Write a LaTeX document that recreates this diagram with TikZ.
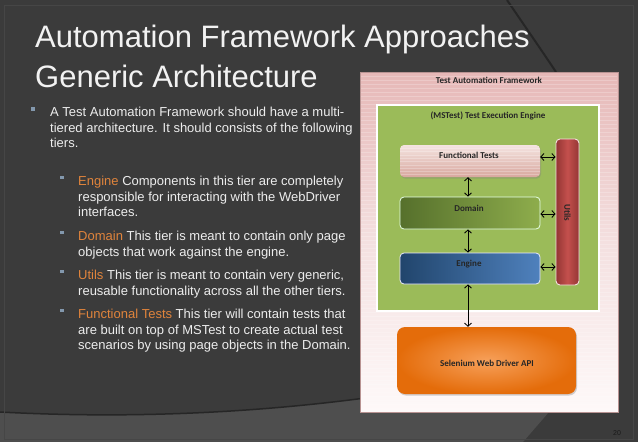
\documentclass[tikz,border=0pt]{standalone}
\usepackage{fontspec}
\setmainfont{Liberation Sans}
\newfontfamily\diagfont{Carlito}
\usetikzlibrary{arrows.meta,shadows}
\definecolor{bg}{HTML}{3B3B3B}
\definecolor{bandc}{HTML}{4E4E4E}
\definecolor{edgec}{HTML}{262626}
\definecolor{framec}{HTML}{464646}
\definecolor{txt}{HTML}{EDEDED}
\definecolor{hlc}{HTML}{E0843C}
\definecolor{bulc}{HTML}{8398AD}
\definecolor{pk1}{HTML}{E6B8B7}
\definecolor{pk2}{HTML}{F4E0E0}
\definecolor{pk3}{HTML}{FEF9F9}
\definecolor{grn}{HTML}{9BBB59}
\definecolor{ft1}{HTML}{F4E4E0}
\definecolor{ft2}{HTML}{D8A79E}
\definecolor{dm1}{HTML}{56702C}
\definecolor{dm2}{HTML}{8EAD4C}
\definecolor{en1}{HTML}{21456C}
\definecolor{en2}{HTML}{4F81BD}
\definecolor{ut1}{HTML}{943634}
\definecolor{ut2}{HTML}{C4504D}
\definecolor{or1}{HTML}{F7A05A}
\definecolor{or2}{HTML}{E46C0A}
\begin{document}
\begin{tikzpicture}[x=1pt,y=-1pt,
  slidetext/.style={text=txt, font=\fontsize{13}{15.5}\selectfont, anchor=base west, align=left, inner sep=0pt},
  bulletsq/.style={fill=bulc, minimum size=3.2pt, inner sep=0pt},
  dlabel/.style={font=\diagfont\bfseries\fontsize{9}{10}\selectfont, text=black!85, inner sep=0pt},
  tier/.style={rounded corners=4pt, minimum width=140pt, minimum height=32pt, inner sep=0pt},
  link/.style={{Straight Barb[length=3.2pt,width=7pt]}-{Straight Barb[length=3.2pt,width=7pt]}, line width=0.85pt, black}
]
\useasboundingbox (0,0) rectangle (638,442);
% background
\fill[bg] (0,0) rectangle (638,442);
\fill[bandc] (0,412) .. controls (150,420) and (280,410) .. (380,396) -- (560,396) -- (549,412) -- (523,442) -- (0,442) -- cycle;
\draw[edgec, line width=1.5pt] (0,412) .. controls (150,420) and (280,410) .. (380,396);
\draw[edgec, line width=2pt] (507,0) .. controls (522,22) and (540,48) .. (556,72);
\draw[framec, line width=0.8pt] (4,5) rectangle (633,439);
% title (anchor on the last line's baseline)
\node[text=white!95!black, font=\fontsize{31}{40}\selectfont, anchor=base west, align=left, inner sep=0pt] (title) at (35,87) {Automation Framework Approaches\\Generic Architecture};
% bullets
\node[bulletsq] (b0) at (33,109) {};
\node[slidetext] (t0) at (50,147.5) {A Test Automation Framework should have a multi-\\tiered architecture. It should consists of the following\\tiers.};
\node[bulletsq] (b1) at (62,177.5) {};
\node[slidetext] (t1) at (78,216.5) {{\color{hlc}Engine} Components in this tier are completely\\responsible for interacting with the WebDriver\\interfaces.};
\node[bulletsq] (b2) at (62,232.5) {};
\node[slidetext] (t2) at (78,256) {{\color{hlc}Domain} This tier is meant to contain only page\\objects that work against the engine.};
\node[bulletsq] (b3) at (62,271.5) {};
\node[slidetext] (t3) at (78,295) {{\color{hlc}Utils} This tier is meant to contain very generic,\\reusable functionality across all the other tiers.};
\node[bulletsq] (b4) at (62,310.5) {};
\node[slidetext] (t4) at (78,349.5) {{\color{hlc}Functional Tests} This tier will contain tests that\\are built on top of MSTest to create actual test\\scenarios by using page objects in the Domain.};
% diagram panel
\node[top color=pk1, bottom color=pk3, middle color=pk2, minimum width=258pt, minimum height=340pt, inner sep=0pt, draw=pk1!80!black, line width=0.4pt] (panel) at (489,242) {};
\foreach \yy in {76,80,...,408} \draw[white, opacity=0.22, line width=0.5pt] (361,\yy) -- (617,\yy);
\node[dlabel] (paneltitle) at (489,80) {Test Automation Framework};
\node[fill=grn, draw=white, line width=1.5pt, minimum width=222pt, minimum height=206pt, inner sep=0pt] (msbox) at (488,208) {};
\node[dlabel] (mstitle) at (488,115.5) {(MSTest) Test Execution Engine};
% tiers
\node[tier, top color=ft1, bottom color=ft2, drop shadow={shadow xshift=1pt, shadow yshift=-1.5pt, opacity=0.35},
  path picture={\foreach \k in {1,...,9} \draw[white, opacity=0.25, line width=0.5pt] ([yshift=-\k*3.3pt]path picture bounding box.north west) -- ([yshift=-\k*3.3pt]path picture bounding box.north east);}] (ft) at (470,161) {};
\node[dlabel] (ftl) at (469,155) {Functional Tests};
\node[tier, left color=dm1, right color=dm2, draw=green!10!white, line width=0.8pt] (domain) at (470,213) {};
\node[dlabel] (dml) at (469,208) {Domain};
\node[tier, left color=en1, right color=en2, draw=blue!8!white, line width=0.8pt, minimum height=31pt] (engine) at (470,268.5) {};
\node[dlabel] (enl) at (469,264) {Engine};
\node[rounded corners=4pt, left color=ut1, right color=ut1, middle color=ut2, draw=pk2, line width=0.9pt, minimum width=23pt, minimum height=146pt, inner sep=0pt] (utils) at (567.5,212) {};
\node[dlabel, rotate=-90] (utl) at (567.5,213) {Utils};
\node[rounded corners=8pt, inner color=or1, outer color=or2, minimum width=179pt, minimum height=67pt, inner sep=0pt, drop shadow={shadow xshift=1pt, shadow yshift=-1.5pt, opacity=0.35}] (sel) at (486.5,360.5) {};
\node[dlabel] (sell) at (487,363) {Selenium Web Driver API};
% connectors
\draw[link] ([yshift=4pt]ft.east) -- ([yshift=4pt]ft.east -| utils.west);
\draw[link] ([yshift=-1pt]domain.east) -- ([yshift=-1pt]domain.east -| utils.west);
\draw[link] ([yshift=1.5pt]engine.east) -- ([yshift=1.5pt]engine.east -| utils.west);
\draw[link] ([xshift=-2pt]ft.south) -- ([xshift=-2pt]domain.north);
\draw[link] ([xshift=-2pt]domain.south) -- ([xshift=-2pt]engine.north);
\draw[link] ([xshift=-2pt]engine.south) -- ([xshift=-2pt]engine.south |- sel.north);
% page number
\node[text=black!90, font=\fontsize{7}{8}\selectfont, inner sep=0pt] (pnum) at (617,433) {20};
\end{tikzpicture}
\end{document}
